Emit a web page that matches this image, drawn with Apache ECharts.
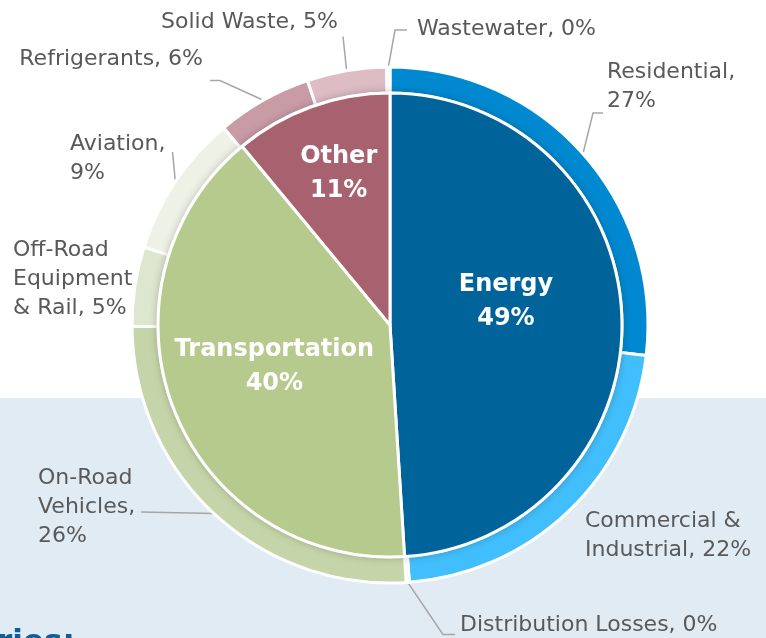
<!DOCTYPE html>
<html>
<head>
<meta charset="utf-8">
<title>Emissions by sector</title>
<script src="https://cdn.jsdelivr.net/npm/echarts@6/dist/echarts.min.js"></script>
<style>
  html, body { margin: 0; padding: 0; background: #fff; }
  #chart { width: 766px; height: 638px; }
</style>
</head>
<body>
<div id="chart"></div>
<script>
// inner ring: sectors
const sectorNames = ['Energy', 'Transportation', 'Other']
const sectorValues = [49, 40, 11]

// outer ring: sub-sectors (0% slices drawn as a sliver)
const subNames = [
  'Residential',
  'Commercial & Industrial',
  'Distribution Losses',
  'On-Road Vehicles',
  'Off-Road Equipment & Rail',
  'Aviation',
  'Refrigerants',
  'Solid Waste',
  'Wastewater',
]
const subValues = [27, 22, 0.2, 26, 5, 9, 6, 5, 0.2]
const subLabelTpl = [
  'Residential,\n{p}%',
  'Commercial &\nIndustrial, {p}%',
  'Distribution Losses, {p}%',
  'On-Road\nVehicles,\n{p}%',
  'Off-Road\nEquipment\n& Rail, {p}%',
  'Aviation,\n{p}%',
  'Refrigerants, {p}%',
  'Solid Waste, {p}%',
  'Wastewater, {p}%',
]

const sectorColors = ['#00639a', '#b5ca8c', '#a8616f']
const subColors = ['#0089d0', '#41bffc', '#dfeaf2', '#c6d5a9', '#dde6cf', '#eef2e6', '#c99ba5', '#ddbcc4', '#e8d2d7']
const innerLabelOffset = [[-3, -19], [-5, -2], [-11, -39]]

// label anchor spot [x, y, align] and line end [fx, fy, dx, dy, hook]
const labelSpots = [
  [607, 87, 'left'],
  [585, 536, 'left'],
  [460, 625, 'left'],
  [38, 507, 'left'],
  [13, 279, 'left'],
  [70, 159, 'left'],
  [203, 59, 'right'],
  [338, 22, 'right'],
  [417, 29, 'left'],
]
const lineEnds = [
  [0, 1, -4, -3, -10],
  null,
  [0, 1, -5, -5, -12],
  [1, 0.5, 6, 5, 0],
  null,
  [1, 0, 7, 22, 0],
  [1, 1, 7, 7, 10],
  [1, 1, 5, 0, 0],
  [0, 0.5, -10, 1, -12],
]

const chart = echarts.init(document.getElementById('chart'))
const center = [390, 325]
const font = 'DejaVu Sans'

const option = {
  animation: false,
  graphic: [
    {
      type: 'rect',
      z: 0,
      shape: { x: 0, y: 398, width: 766, height: 240 },
      style: { fill: '#e1ebf4' },
    },
    {
      type: 'text',
      z: 1,
      x: -3,
      y: 643,
      style: {
        text: 'ries:',
        fill: '#0f5e98',
        fontFamily: font,
        fontWeight: 'bold',
        fontSize: 31,
        verticalAlign: 'middle',
      },
    },
  ],
  series: [
    {
      name: 'Sub-sector',
      type: 'pie',
      center: center,
      radius: [232, 258],
      startAngle: 90,
      avoidLabelOverlap: false,
      itemStyle: { borderColor: '#fff', borderWidth: 3 },
      label: {
        show: true,
        position: 'outside',
        fontFamily: font,
        fontSize: 22,
        lineHeight: 29,
        color: '#595959',
        formatter: function (p) {
          return subLabelTpl[p.dataIndex].replace('{p}', Math.round(p.value))
        },
      },
      labelLine: { show: true, lineStyle: { color: '#a6a6a6', width: 1.5 } },
      labelLayout: function (p) {
        const s = labelSpots[p.dataIndex]
        const w = p.labelRect.width
        const h = p.labelRect.height
        const left = s[2] === 'left' ? s[0] : s[0] - w
        const top = s[1] - h / 2
        const out = { x: s[0], y: s[1], align: s[2], verticalAlign: 'middle' }
        const e = lineEnds[p.dataIndex]
        if (e && p.labelLinePoints) {
          const ex = left + w * e[0] + e[2]
          const ey = top + h * e[1] + e[3]
          out.labelLinePoints = [p.labelLinePoints[0], [ex + e[4], ey], [ex, ey]]
        }
        return out
      },
      emphasis: { disabled: true },
      data: subNames.map(function (n, i) {
        return {
          name: n,
          value: subValues[i],
          itemStyle: { color: subColors[i] },
          labelLine: { show: lineEnds[i] !== null },
        }
      }),
    },
    {
      name: 'shadow',
      type: 'pie',
      center: center,
      radius: [0, 232],
      silent: true,
      label: { show: false },
      labelLine: { show: false },
      itemStyle: {
        color: '#fff',
        shadowBlur: 10,
        shadowColor: 'rgba(0, 0, 0, 0.3)',
      },
      data: [{ name: 'disc', value: 1 }],
    },
    {
      name: 'Sector',
      type: 'pie',
      center: center,
      radius: [0, 232],
      startAngle: 90,
      itemStyle: { borderColor: '#fff', borderWidth: 3 },
      label: {
        show: true,
        position: 'inside',
        fontFamily: font,
        fontWeight: 'bold',
        fontSize: 24,
        lineHeight: 34,
        color: '#fff',
        formatter: '{b}\n{c}%',
      },
      labelLine: { show: false },
      emphasis: { disabled: true },
      data: sectorNames.map(function (n, i) {
        return {
          name: n,
          value: sectorValues[i],
          itemStyle: { color: sectorColors[i] },
          label: { offset: innerLabelOffset[i] },
        }
      }),
    },
  ],
}

chart.setOption(option)
</script>
</body>
</html>
